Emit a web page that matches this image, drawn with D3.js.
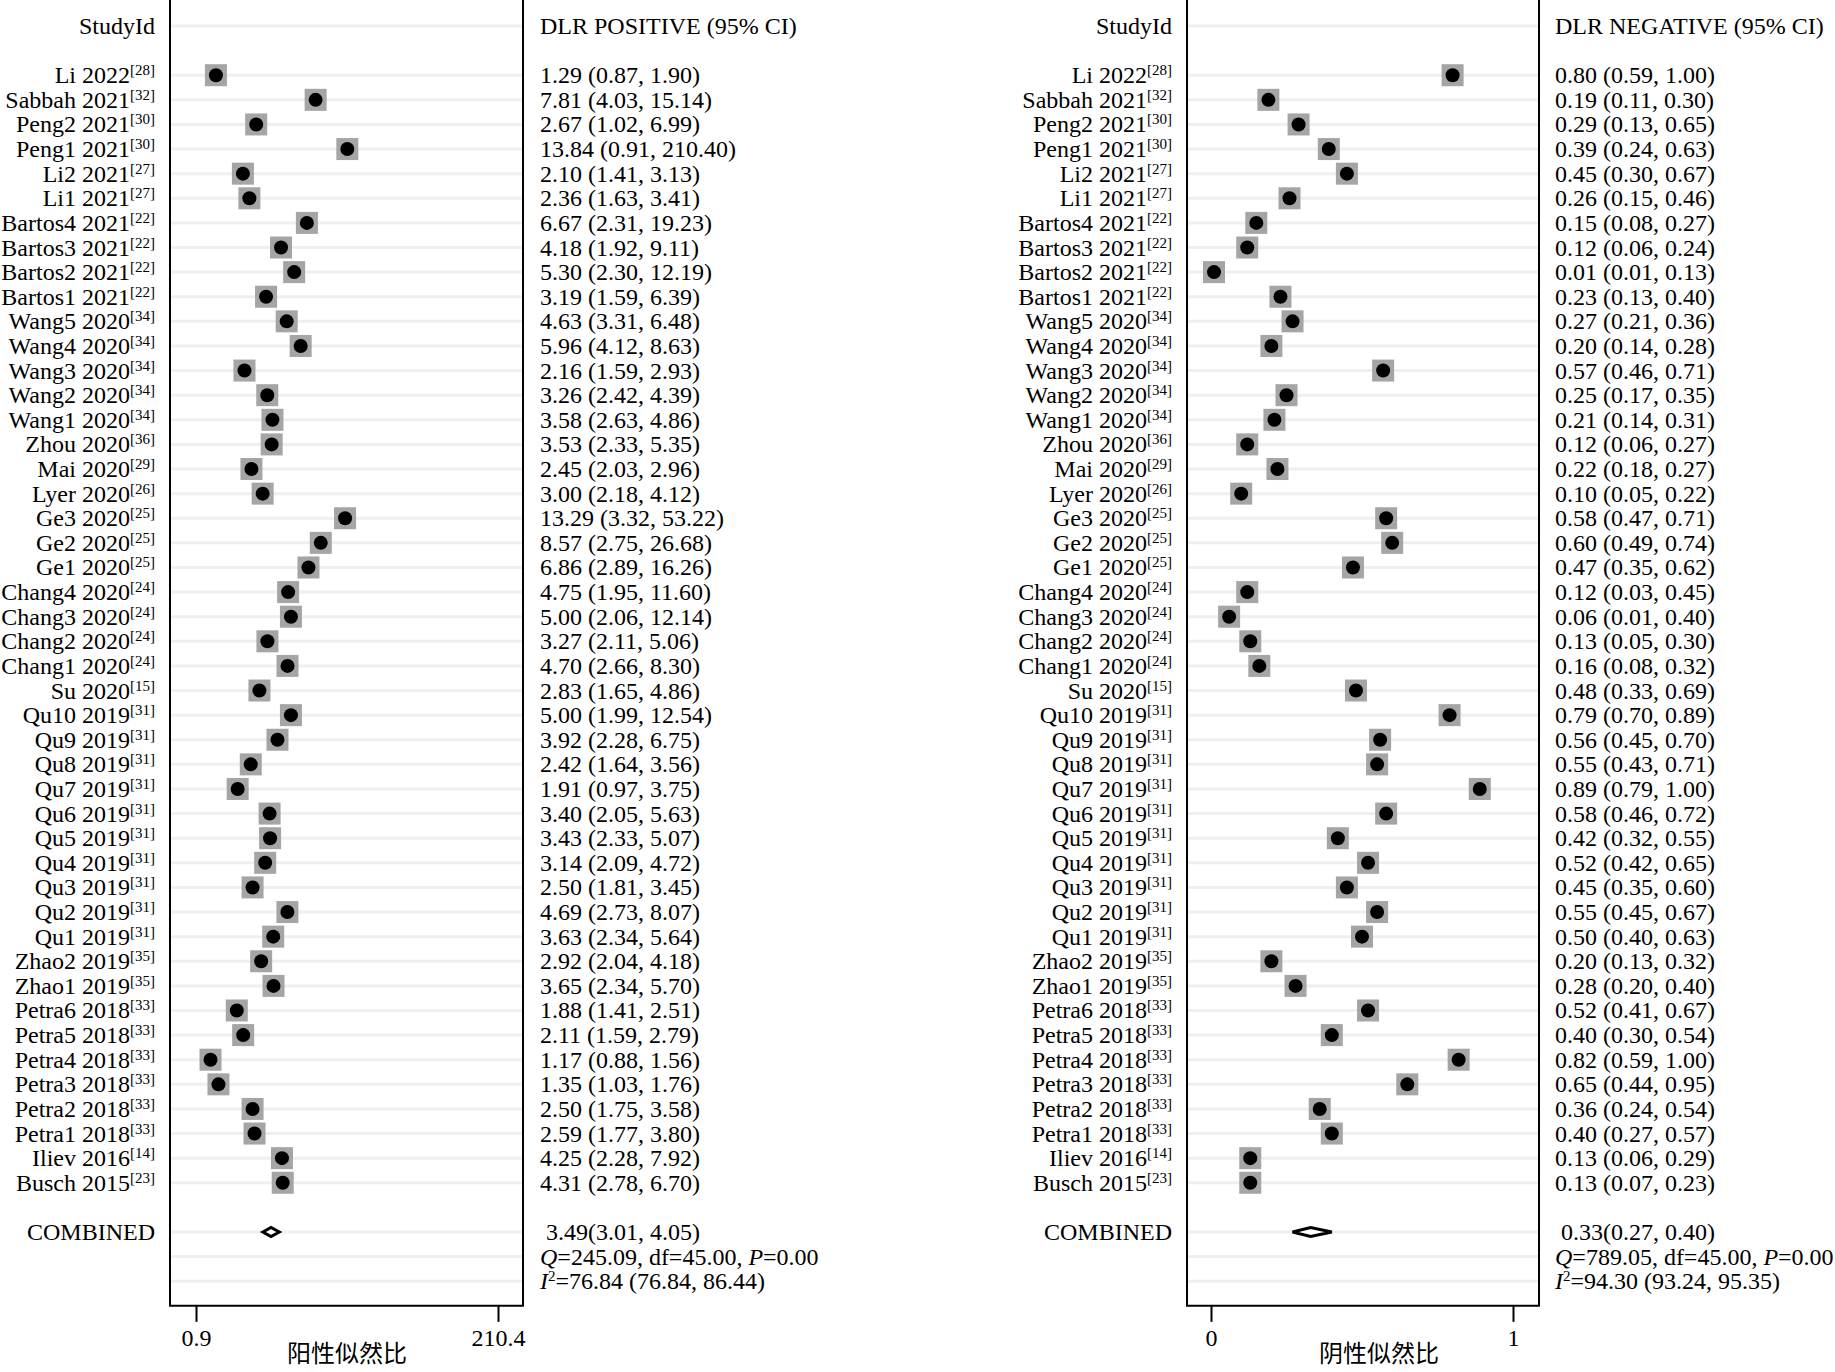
<!DOCTYPE html>
<html><head><meta charset="utf-8">
<script src="https://cdn.jsdelivr.net/npm/d3@7"></script>
<style>
html,body{margin:0;padding:0;background:#fff;}
svg{display:block;}
</style></head>
<body>
<svg id="chart" width="1835" height="1372"></svg>
<script>
// ---------------- DATA ----------------
const studies = ["Li 2022","Sabbah 2021","Peng2 2021","Peng1 2021","Li2 2021","Li1 2021","Bartos4 2021","Bartos3 2021","Bartos2 2021","Bartos1 2021","Wang5 2020","Wang4 2020","Wang3 2020","Wang2 2020","Wang1 2020","Zhou 2020","Mai 2020","Lyer 2020","Ge3 2020","Ge2 2020","Ge1 2020","Chang4 2020","Chang3 2020","Chang2 2020","Chang1 2020","Su 2020","Qu10 2019","Qu9 2019","Qu8 2019","Qu7 2019","Qu6 2019","Qu5 2019","Qu4 2019","Qu3 2019","Qu2 2019","Qu1 2019","Zhao2 2019","Zhao1 2019","Petra6 2018","Petra5 2018","Petra4 2018","Petra3 2018","Petra2 2018","Petra1 2018","Iliev 2016","Busch 2015"];
const refs = ["28","32","30","30","27","27","22","22","22","22","34","34","34","34","34","36","29","26","25","25","25","24","24","24","24","15","31","31","31","31","31","31","31","31","31","31","35","35","33","33","33","33","33","33","14","23"];

const posEst = [1.29,7.81,2.67,13.84,2.10,2.36,6.67,4.18,5.30,3.19,4.63,5.96,2.16,3.26,3.58,3.53,2.45,3.00,13.29,8.57,6.86,4.75,5.00,3.27,4.70,2.83,5.00,3.92,2.42,1.91,3.40,3.43,3.14,2.50,4.69,3.63,2.92,3.65,1.88,2.11,1.17,1.35,2.50,2.59,4.25,4.31];
const posLo  = [0.87,4.03,1.02,0.91,1.41,1.63,2.31,1.92,2.30,1.59,3.31,4.12,1.59,2.42,2.63,2.33,2.03,2.18,3.32,2.75,2.89,1.95,2.06,2.11,2.66,1.65,1.99,2.28,1.64,0.97,2.05,2.33,2.09,1.81,2.73,2.34,2.04,2.34,1.41,1.59,0.88,1.03,1.75,1.77,2.28,2.78];
const posHi  = [1.90,15.14,6.99,210.40,3.13,3.41,19.23,9.11,12.19,6.39,6.48,8.63,2.93,4.39,4.86,5.35,2.96,4.12,53.22,26.68,16.26,11.60,12.14,5.06,8.30,4.86,12.54,6.75,3.56,3.75,5.63,5.07,4.72,3.45,8.07,5.64,4.18,5.70,2.51,2.79,1.56,1.76,3.58,3.80,7.92,6.70];

const negEst = [0.80,0.19,0.29,0.39,0.45,0.26,0.15,0.12,0.01,0.23,0.27,0.20,0.57,0.25,0.21,0.12,0.22,0.10,0.58,0.60,0.47,0.12,0.06,0.13,0.16,0.48,0.79,0.56,0.55,0.89,0.58,0.42,0.52,0.45,0.55,0.50,0.20,0.28,0.52,0.40,0.82,0.65,0.36,0.40,0.13,0.13];
const negLo  = [0.59,0.11,0.13,0.24,0.30,0.15,0.08,0.06,0.01,0.13,0.21,0.14,0.46,0.17,0.14,0.06,0.18,0.05,0.47,0.49,0.35,0.03,0.01,0.05,0.08,0.33,0.70,0.45,0.43,0.79,0.46,0.32,0.42,0.35,0.45,0.40,0.13,0.20,0.41,0.30,0.59,0.44,0.24,0.27,0.06,0.07];
const negHi  = [1.00,0.30,0.65,0.63,0.67,0.46,0.27,0.24,0.13,0.40,0.36,0.28,0.71,0.35,0.31,0.27,0.27,0.22,0.71,0.74,0.62,0.45,0.40,0.30,0.32,0.69,0.89,0.70,0.71,1.00,0.72,0.55,0.65,0.60,0.67,0.63,0.32,0.40,0.67,0.54,1.00,0.95,0.54,0.57,0.29,0.23];

const combinedPos = [3.49, 3.01, 4.05];
const combinedNeg = [0.33, 0.27, 0.40];
const hetPos = {Q:"245.09", df:"45.00", P:"0.00", I2:"76.84", I2lo:"76.84", I2hi:"86.44"};
const hetNeg = {Q:"789.05", df:"45.00", P:"0.00", I2:"94.30", I2lo:"93.24", I2hi:"95.35"};

const posTicks = [0.9, 210.4];
const negTicks = [0, 1];
const headers = ["DLR POSITIVE (95% CI)", "DLR NEGATIVE (95% CI)"];
const axisTitles = ["阳性似然比", "阴性似然比"];

// ---------------- LAYOUT ----------------
const svg = d3.select("#chart");
const FONT = "'Liberation Serif','Times New Roman',serif";
const FS = 24;
const SUP = 15;
const rowY = d3.scaleLinear().domain([0, 49]).range([26, 1232]);
const bottomY = rowY(52);
const fmt = v => v.toFixed(2);

const panels = [
  { left:170, right:523, r0:196, r1:498, labelRight:155, textX:540, titleX:347,
    scale: d3.scaleLog().domain([0.9, 210.4]), ticks: posTicks, tickFmt: d => String(d),
    est: posEst, lo: posLo, hi: posHi, comb: combinedPos, het: hetPos, header: headers[0], title: axisTitles[0] },
  { left:1187, right:1539, r0:1211, r1:1513, labelRight:1172, textX:1555, titleX:1379,
    scale: d3.scaleLinear().domain([0, 1]), ticks: negTicks, tickFmt: d => String(d),
    est: negEst, lo: negLo, hi: negHi, comb: combinedNeg, het: hetNeg, header: headers[1], title: axisTitles[1] }
];

panels.forEach(p => {
  p.scale.range([p.r0, p.r1]);
  const g = svg.append("g");
  const x = p.scale;

  // gridlines
  const gridRows = [0].concat(d3.range(2, 48), [49, 50, 51]);
  g.selectAll("line.grid").data(gridRows).join("line")
    .attr("x1", p.left).attr("x2", p.right)
    .attr("y1", d => rowY(d)).attr("y2", d => rowY(d))
    .attr("stroke", "#efefef").attr("stroke-width", 3);

  // box (left, right, bottom)
  g.append("path")
    .attr("d", `M${p.left},0 L${p.left},${bottomY} L${p.right},${bottomY} L${p.right},0`)
    .attr("fill", "none").attr("stroke", "#000").attr("stroke-width", 2);

  // markers
  const sz = 22;
  const rows = studies.map((s, i) => ({ i, row: i + 2, est: p.est[i] }));
  g.selectAll("rect.mk").data(rows).join("rect")
    .attr("x", d => x(d.est) - sz / 2).attr("y", d => rowY(d.row) - sz / 2)
    .attr("width", sz).attr("height", sz).attr("fill", "#a5a5a5");
  g.selectAll("circle.mk").data(rows).join("circle")
    .attr("cx", d => x(d.est)).attr("cy", d => rowY(d.row))
    .attr("r", 7).attr("fill", "#000");

  // combined diamond
  const cy = rowY(49);
  const pts = [[x(p.comb[1]), cy], [x(p.comb[0]), cy - 4.5], [x(p.comb[2]), cy], [x(p.comb[0]), cy + 4.5]];
  g.append("path").attr("d", d3.line()(pts) + "Z")
    .attr("fill", "#fff").attr("stroke", "#000").attr("stroke-width", 3).attr("stroke-linejoin", "miter");

  // study labels
  const txt = g.append("g").attr("font-family", FONT).attr("font-size", FS).attr("fill", "#000");
  txt.append("text").attr("x", p.labelRight).attr("y", rowY(0) + 8).attr("text-anchor", "end").text("StudyId");
  rows.forEach(d => {
    const t = txt.append("text").attr("x", p.labelRight).attr("y", rowY(d.row) + 8).attr("text-anchor", "end");
    t.append("tspan").text(studies[d.i]);
    t.append("tspan").attr("font-size", SUP).attr("dy", -8).text("[" + refs[d.i] + "]");
  });
  txt.append("text").attr("x", p.labelRight).attr("y", rowY(49) + 8).attr("text-anchor", "end").text("COMBINED");

  // value column
  txt.append("text").attr("x", p.textX).attr("y", rowY(0) + 8).text(p.header);
  rows.forEach(d => {
    txt.append("text").attr("x", p.textX).attr("y", rowY(d.row) + 8)
      .text(`${fmt(p.est[d.i])} (${fmt(p.lo[d.i])}, ${fmt(p.hi[d.i])})`);
  });
  txt.append("text").attr("x", p.textX + 6).attr("y", rowY(49) + 8)
    .text(`${fmt(p.comb[0])}(${fmt(p.comb[1])}, ${fmt(p.comb[2])})`);
  const q = txt.append("text").attr("x", p.textX).attr("y", rowY(50) + 8);
  q.append("tspan").attr("font-style", "italic").text("Q");
  q.append("tspan").text(`=${p.het.Q}, df=${p.het.df}, `);
  q.append("tspan").attr("font-style", "italic").text("P");
  q.append("tspan").text(`=${p.het.P}`);
  const i2 = txt.append("text").attr("x", p.textX).attr("y", rowY(51) + 8);
  i2.append("tspan").attr("font-style", "italic").text("I");
  i2.append("tspan").attr("font-size", SUP).attr("dy", -8).text("2");
  i2.append("tspan").attr("dy", 8).text(`=${p.het.I2} (${p.het.I2lo}, ${p.het.I2hi})`);

  // axis
  const ax = g.append("g").attr("transform", `translate(0,${bottomY})`)
    .call(d3.axisBottom(x).tickValues(p.ticks).tickFormat(p.tickFmt).tickSize(16).tickPadding(7));
  ax.select(".domain").remove();
  ax.selectAll(".tick line").attr("stroke", "#000").attr("stroke-width", 2);
  ax.selectAll(".tick text").attr("font-family", FONT).attr("font-size", FS).attr("fill", "#000");

  g.append("text").attr("x", p.titleX).attr("y", 1362).attr("text-anchor", "middle")
    .attr("font-family", "'Noto Sans CJK SC',sans-serif").attr("font-size", 24).attr("fill", "#000")
    .text(p.title);
});
</script>
</body></html>
